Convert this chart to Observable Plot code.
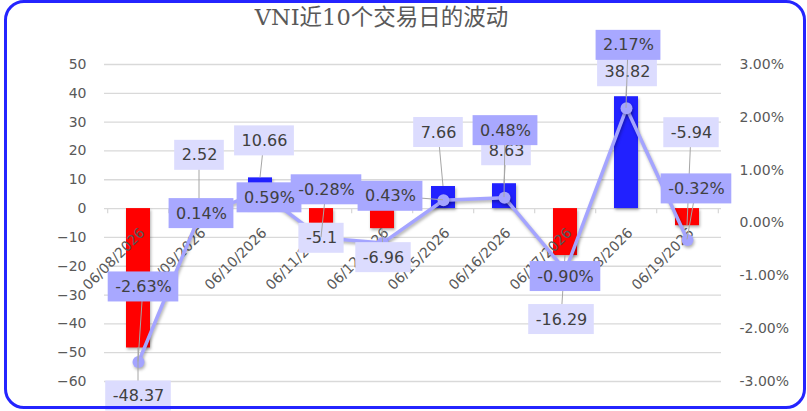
<!DOCTYPE html>
<html><head><meta charset="utf-8">
<script src="https://cdn.jsdelivr.net/npm/d3@7"></script>
<script src="https://cdn.jsdelivr.net/npm/@observablehq/plot@0.6"></script>
<style>
body{margin:0;background:#fff;}
#wrap{position:relative;width:807px;height:411px;overflow:hidden;background:#fff;}
#frame{position:absolute;left:4px;top:0;width:802px;height:409px;box-sizing:border-box;border:3px solid #2424ff;border-radius:20px;pointer-events:none;}
#title{position:absolute;left:0;top:3px;width:763px;text-align:center;font-size:22.5px;font-family:"DejaVu Serif","Noto Sans CJK SC",serif;color:#595959;line-height:28px;}
</style></head><body>
<div id="wrap"><div id="chart"></div><div id="frame"></div><div id="title">VNI近10个交易日的波动</div></div>
<script>
// ---- data ----
const dates = ["06/08/2026","06/09/2026","06/10/2026","06/11/2026","06/12/2026","06/15/2026","06/16/2026","06/17/2026","06/18/2026","06/19/2026"];
const pointChange = [-48.37, 2.52, 10.66, -5.1, -6.96, 7.66, 8.63, -16.29, 38.82, -5.94];
const pctChange = [-2.63, 0.14, 0.59, -0.28, -0.38, 0.43, 0.48, -0.90, 2.17, -0.32];
const leftTicks = [-60, -50, -40, -30, -20, -10, 0, 10, 20, 30, 40, 50];
const rightTicks = [-3, -2, -1, 0, 1, 2, 3];
const pctLabelShown = [true, true, true, true, false, true, true, true, true, true];

// ---- label layout (pixel offsets from the value position) ----
const barLabelDx = [0, 0, 4, 0, 1, -5, 2, -4, 1, 4];
const barLabelDy = [48, -46, -37, 15, 29, -54, -33, 64, -25, -93];
const pctLabelDx = [5, 2, 9, 5, 0, -53, 1, 0, 2, 9];
const pctLabelDy = [-75, -2, 6, -48, 0, -4, -67, 6, -63, -51];
const pctLeader = [true, false, false, true, false, true, true, false, true, true];

// ---- mapping of the secondary (percent) axis onto the primary one ----
const toLeft = p => -5 + p * 55 / 3;
const fromLeft = v => (v + 5) * 3 / 55;

const BLUE = "#2121ff", RED = "#ff0000", LINE = "#a4a4ff";
const BARBG = "#dcdcfe", PCTBG = "#a8a8ff";
const LABELFONT = "16px 'DejaVu Sans'";

const rows = dates.map((d, i) => ({date: d, value: pointChange[i], pct: pctChange[i]}));
const barLabels = rows.map((r, i) => ({date: r.date, anchor: r.value, text: String(r.value), dx: barLabelDx[i], dy: barLabelDy[i], leader: true}));
const pctLabels = rows.map((r, i) => ({date: r.date, anchor: toLeft(r.pct), text: r.pct.toFixed(2) + "%", dx: pctLabelDx[i], dy: pctLabelDy[i], leader: pctLeader[i], show: pctLabelShown[i]})).filter(d => d.show);

const measureCtx = document.createElement("canvas").getContext("2d");
measureCtx.font = LABELFONT;

function labelBoxes(labels, fill) {
  return (index, scales) => {
    const x = scales.x, y = scales.y, bw = x.bandwidth();
    const g = d3.create("svg:g");
    for (const r of labels) {
      const ax = x(r.date) + bw / 2, ay = y(r.anchor);
      const cx = ax + r.dx, cy = ay + r.dy;
      if (r.leader) g.append("line").attr("x1", ax).attr("y1", ay).attr("x2", cx).attr("y2", cy).attr("stroke", "#a6a6a6").attr("stroke-width", 1);
      const w = measureCtx.measureText(r.text).width + 14, h = 30;
      g.append("rect").attr("x", cx - w / 2).attr("y", cy - h / 2).attr("width", w).attr("height", h).attr("fill", fill);
    }
    return g.node();
  };
}
function labelTexts(labels) {
  return labels.map(r => Plot.text([r], {x: "date", y: "anchor", text: "text", dx: r.dx, dy: r.dy, fontSize: 16, fontFamily: "DejaVu Sans", fill: "#404040", textAnchor: "middle"}));
}

const W = 807, H = 411, ML = 104, MR = 86, MT = 64, MB = 30;
const step = (W - ML - MR) / dates.length;

const chart = Plot.plot({
  width: W, height: H,
  marginLeft: ML, marginRight: MR, marginTop: MT, marginBottom: MB,
  style: {fontFamily: "DejaVu Sans", background: "transparent", overflow: "visible"},
  x: {type: "band", domain: dates, paddingInner: 0.6, paddingOuter: 0.3, axis: null},
  y: {domain: [-60, 50]},
  marks: [
    Plot.gridY({ticks: leftTicks, stroke: "#d9d9d9", strokeOpacity: 1, strokeWidth: 1.3}),
    Plot.ruleX(dates, {x: d => d, dx: -step / 2, y1: () => 0, y2: () => -1.8, stroke: "#d9d9d9", strokeWidth: 1.3}),
    Plot.ruleX(dates.slice(-1), {x: d => d, dx: step / 2, y1: () => 0, y2: () => -1.8, stroke: "#d9d9d9", strokeWidth: 1.3}),
    Plot.axisY({anchor: "left", ticks: leftTicks, tickSize: 0, tickPadding: 18, fontSize: 14, fill: "#595959", label: null}),
    Plot.axisY({anchor: "right", ticks: rightTicks.map(toLeft), tickFormat: v => fromLeft(v).toFixed(2) + "%", tickSize: 0, tickPadding: 18, fontSize: 14, fill: "#595959", label: null}),
    Plot.barY(rows, {x: "date", y: "value", fill: d => d.value >= 0 ? BLUE : RED}),
    Plot.text(dates, {x: d => d, y: () => 0, text: d => d, rotate: -45, textAnchor: "end", dx: 4, dy: 22, fontSize: 14, fontFamily: "DejaVu Sans", fill: "#595959"}),
    Plot.line(rows, {x: "date", y: d => toLeft(d.pct), stroke: LINE, strokeWidth: 3.5}),
    Plot.dot(rows, {x: "date", y: d => toLeft(d.pct), r: 6, fill: LINE}),
    labelBoxes(barLabels, BARBG),
    ...labelTexts(barLabels),
    labelBoxes(pctLabels, PCTBG),
    ...labelTexts(pctLabels)
  ]
});
document.getElementById("chart").appendChild(chart);
d3.select(chart).selectAll('g[aria-label="bar"], g[aria-label="line"], g[aria-label="dot"]').style("filter", "drop-shadow(1.5px 2px 1.5px rgba(0,0,0,0.3))");
</script>
</body></html>
